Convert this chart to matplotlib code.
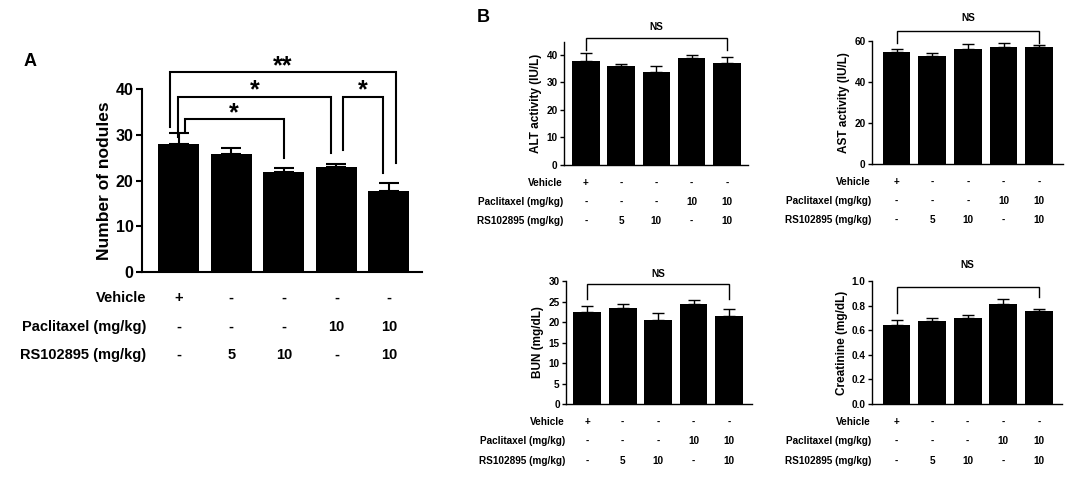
#!/usr/bin/env python

"""
Nodule count and serum chemistry bar charts (panels A and B).
"""

import numpy as np
import matplotlib
matplotlib.use('Agg')
import matplotlib.pyplot as plt
import matplotlib.ticker as mtick
from matplotlib.transforms import blended_transform_factory

plt.rcParams['font.family'] = ['Liberation Sans', 'DejaVu Sans']
plt.rcParams['font.weight'] = 'bold'

# treatment table under every panel
ROW_NAMES = ['Vehicle', 'Paclitaxel (mg/kg)', 'RS102895 (mg/kg)']
VEHICLE = ['+', '-', '-', '-', '-']
PACLITAXEL = ['-', '-', '-', '10', '10']
RS102895 = ['-', '5', '10', '-', '10']

# panel A
nodules = [28.0, 25.9, 21.9, 22.9, 17.8]
nodules_err = [2.4, 1.3, 0.9, 0.7, 1.7]

# panel B
alt = [37.9, 35.9, 33.8, 38.9, 37.1]
alt_err = [2.8, 0.9, 2.1, 0.9, 2.0]
ast = [54.8, 52.8, 56.1, 56.9, 56.9]
ast_err = [1.1, 1.2, 2.6, 2.1, 1.3]
bun = [22.4, 23.3, 20.5, 24.4, 21.5]
bun_err = [1.5, 1.2, 1.8, 1.0, 1.6]
creat = [0.642, 0.675, 0.702, 0.816, 0.756]
creat_err = [0.041, 0.027, 0.024, 0.038, 0.019]


def bar_panel(ax, values, errors, ylim, yticks, ylabel, xlim, fs_tick, fs_label,
              lw, capsize, fmt=None):
    x = np.arange(len(values))
    ax.bar(x, values, width=0.78, color='black', zorder=2)
    ax.errorbar(x, values, yerr=[np.zeros(len(values)), errors], fmt='none',
                ecolor='black', elinewidth=lw, capsize=capsize, capthick=lw, zorder=1)
    ax.set_xlim(*xlim)
    ax.set_ylim(*ylim)
    ax.set_yticks(yticks)
    if fmt:
        ax.yaxis.set_major_formatter(mtick.FormatStrFormatter(fmt))
    ax.set_xticks([])
    for s in ['top', 'right']:
        ax.spines[s].set_visible(False)
    for s in ['left', 'bottom']:
        ax.spines[s].set_linewidth(lw)
    ax.tick_params(axis='y', width=lw, length=3 * lw, labelsize=fs_tick, pad=1.5)
    ax.set_ylabel(ylabel, fontsize=fs_label, fontweight='bold', labelpad=3)


def treatment_rows(ax, row_y, label_dx, fs):
    trans = blended_transform_factory(ax.transData, ax.transAxes)
    for name, cells, y in zip(ROW_NAMES, [VEHICLE, PACLITAXEL, RS102895], row_y):
        ax.text(label_dx, y, name, transform=ax.transAxes, ha='right', va='center',
                fontsize=fs, fontweight='bold')
        for i, c in enumerate(cells):
            ax.text(i, y, c, transform=trans, ha='center', va='center',
                    fontsize=fs, fontweight='bold')


def bracket(ax, x1, x2, y, y1, y2, text, fs, lw, ty, va='bottom'):
    ax.plot([x1, x1, x2, x2], [y1, y, y, y2], color='black', lw=lw,
            clip_on=False, solid_joinstyle='miter')
    ax.text((x1 + x2) / 2, ty, text, ha='center', va=va, fontsize=fs,
            fontweight='bold', clip_on=False)


fig = plt.figure(figsize=(10.8, 4.86), dpi=100)

# ---- panel A
axA = fig.add_axes([0.1315, 0.4403, 0.2593, 0.3766])
bar_panel(axA, nodules, nodules_err, (0, 40), [0, 10, 20, 30, 40],
          'Number of nodules', (-0.7, 4.63), 11.5, 12.5, 1.5, 7.5)
treatment_rows(axA, [-0.142, -0.301, -0.454], 0.014, 10.5)
bracket(axA, -0.17, 4.13, 43.7, 31.7, 23.8, '**', 18, 1.5, 45.6, va='center_baseline')
bracket(axA, -0.02, 2.9, 38.3, 29.5, 26.0, '*', 18, 1.5, 40.2, va='center_baseline')
bracket(axA, 0.11, 2.0, 33.4, 30.6, 24.9, '*', 18, 1.5, 35.3, va='center_baseline')
bracket(axA, 3.12, 3.89, 38.3, 26.7, 21.6, '*', 18, 1.5, 40.2, va='center_baseline')
fig.text(30 / 1080, 1 - 62 / 486, 'A', fontsize=13, fontweight='bold', ha='center', va='center')

# ---- panel B
axALT = fig.add_axes([0.5222, 0.6605, 0.1704, 0.2531])
bar_panel(axALT, alt, alt_err, (0, 44.7), [0, 10, 20, 30, 40],
          'ALT activity (IU/L)', (-0.62, 4.6), 7.2, 8.5, 1.0, 4.3)
treatment_rows(axALT, [-0.146, -0.30, -0.452], -0.005, 7.2)
bracket(axALT, 0, 4, 46.2, 41.8, 41.8, 'NS', 7.2, 1.0, 50.2, va='center')

axAST = fig.add_axes([0.8074, 0.6626, 0.1769, 0.2531])
bar_panel(axAST, ast, ast_err, (0, 60), [0, 20, 40, 60],
          'AST activity (IU/L)', (-0.69, 4.67), 7.2, 8.5, 1.0, 4.3)
treatment_rows(axAST, [-0.146, -0.30, -0.452], -0.005, 7.2)
bracket(axAST, 0, 4, 64.9, 58.9, 58.9, 'NS', 7.2, 1.0, 71.0, va='center')

axBUN = fig.add_axes([0.5241, 0.1687, 0.1722, 0.2531])
bar_panel(axBUN, bun, bun_err, (0, 30), [0, 5, 10, 15, 20, 25, 30],
          'BUN (mg/dL)', (-0.6, 4.65), 7.2, 8.5, 1.0, 4.3)
treatment_rows(axBUN, [-0.146, -0.30, -0.46], -0.005, 7.2)
bracket(axBUN, 0, 4, 29.2, 25.5, 25.5, 'NS', 7.2, 1.0, 31.6, va='center')

axCR = fig.add_axes([0.8074, 0.1687, 0.1759, 0.2531])
bar_panel(axCR, creat, creat_err, (0, 1.0), [0, 0.2, 0.4, 0.6, 0.8, 1.0],
          'Creatinine (mg/dL)', (-0.69, 4.65), 7.2, 8.5, 1.0, 4.3, fmt='%.1f')
treatment_rows(axCR, [-0.146, -0.30, -0.46], -0.005, 7.2)
bracket(axCR, 0, 4, 0.954, 0.737, 0.873, 'NS', 7.2, 1.0, 1.13, va='center')

fig.text(483 / 1080, 1 - 17 / 486, 'B', fontsize=13, fontweight='bold', ha='center', va='center')

fig.savefig('out.png', dpi=100, facecolor='white')
